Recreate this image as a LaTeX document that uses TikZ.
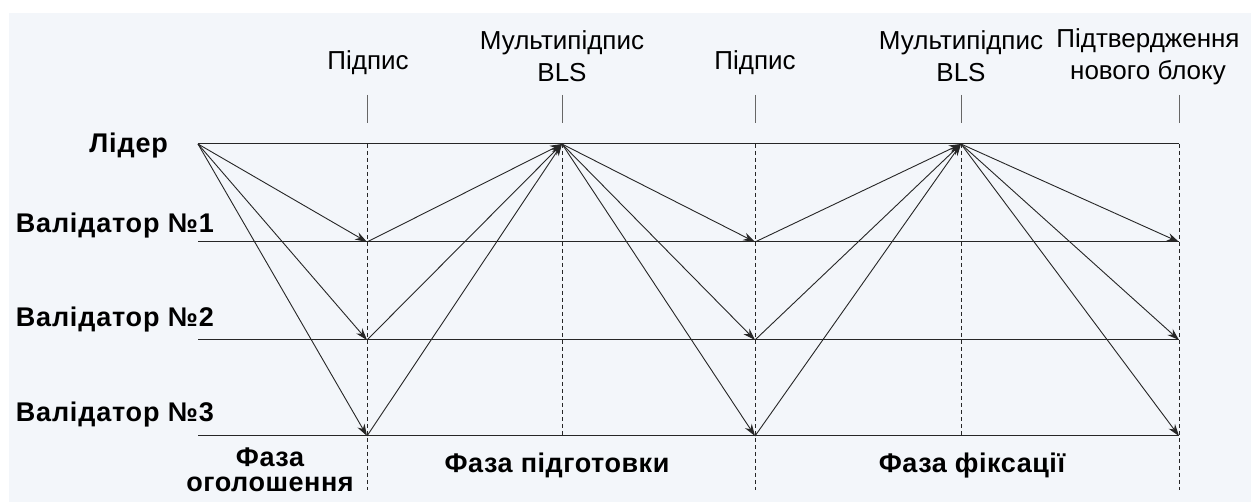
\documentclass[tikz,border=0pt]{standalone}
\usepackage{fontspec}
\setmainfont{Liberation Sans}
\usetikzlibrary{arrows.meta}
\definecolor{bgc}{HTML}{F3F6FA}
\definecolor{ln}{HTML}{262626}
\definecolor{tk}{HTML}{666666}
\begin{document}
\begin{tikzpicture}[x=1pt,y=-1pt,
  lane/.style={draw=ln, line width=1pt},
  msg/.style={draw=ln, line width=0.9pt, -{Stealth[length=12pt,width=8pt]}},
  phaseline/.style={draw=ln, line width=0.9pt, dash pattern=on 4pt off 3pt},
  tickline/.style={draw=tk, line width=0.9pt},
  role/.style={font=\fontsize{27}{30}\selectfont\bfseries\addfontfeature{LetterSpace=3}, anchor=base east, inner sep=0pt},
  event/.style={font=\fontsize{26}{32}\selectfont, align=center, inner sep=0pt, anchor=base},
  phasetxt/.style={font=\fontsize{27}{25}\selectfont\bfseries\addfontfeature{LetterSpace=2}, align=center, inner sep=0pt, anchor=base}
]
\useasboundingbox (0,0) rectangle (1251,502);
\fill[bgc] (9,13) rectangle (1251,502);

% role labels
\node[role] (rl) at (168,153) {Лідер};
\node[role] (r1) at (214,233) {Валідатор №1};
\node[role] (r2) at (214,327) {Валідатор №2};
\node[role] (r3) at (214,422) {Валідатор №3};

% lane endpoints
\coordinate (L0) at (198,144);  \coordinate (LE) at (1179,144);
\coordinate (V1s) at (198,242); \coordinate (V1e) at (1179,242);
\coordinate (V2s) at (198,340); \coordinate (V2e) at (1179,340);
\coordinate (V3s) at (198,436); \coordinate (V3e) at (1179,436);

% event points
\coordinate (a1) at (367,242); \coordinate (a2) at (367,340); \coordinate (a3) at (367,436);
\coordinate (m1) at (562,144);
\coordinate (b1) at (755,242); \coordinate (b2) at (755,340); \coordinate (b3) at (755,436);
\coordinate (m2) at (961,144);
\coordinate (c1) at (1179,242); \coordinate (c2) at (1179,340); \coordinate (c3) at (1179,436);

% phase boundaries (dashed) and ticks
\foreach \x/\n/\e in {367/d1/490,562/d2/436,755/d3/490,961/d4/436,1179/d5/490}{
  \coordinate (\n t) at (\x,144);
  \coordinate (\n b) at (\x,\e);
  \draw[phaseline] (\n t) -- (\n b);
  \coordinate (\n u) at (\x,95);
  \coordinate (\n v) at (\x,123);
  \draw[tickline] (\n u) -- (\n v);
}

% lanes
\draw[lane] (L0) -- (LE);
\draw[lane] (V1s) -- (V1e);
\draw[lane] (V2s) -- (V2e);
\draw[lane] (V3s) -- (V3e);

% messages
\foreach \t in {a1,a2,a3}{\draw[msg] (L0) -- (\t);}
\foreach \s in {a1,a2,a3}{\draw[msg] (\s) -- (m1);}
\foreach \t in {b1,b2,b3}{\draw[msg] (m1) -- (\t);}
\foreach \s in {b1,b2,b3}{\draw[msg] (\s) -- (m2);}
\foreach \t in {c1,c2,c3}{\draw[msg] (m2) -- (\t);}

% event labels (base anchor = last line)
\node[event] (e1) at (368,70) {Підпис};
\node[event] (e2) at (562,82) {Мультипідпис\\BLS};
\node[event] (e3) at (755,70) {Підпис};
\node[event] (e4) at (961,82) {Мультипідпис\\BLS};
\node[event] (e5) at (1148,80) {Підтвердження\\нового блоку};

% phase labels
\node[phasetxt] (f1) at (270,492) {Фаза\\оголошення};
\node[phasetxt] (f2) at (557,473) {Фаза підготовки};
\node[phasetxt] (f3) at (972,473) {Фаза фіксації};
\end{tikzpicture}
\end{document}
